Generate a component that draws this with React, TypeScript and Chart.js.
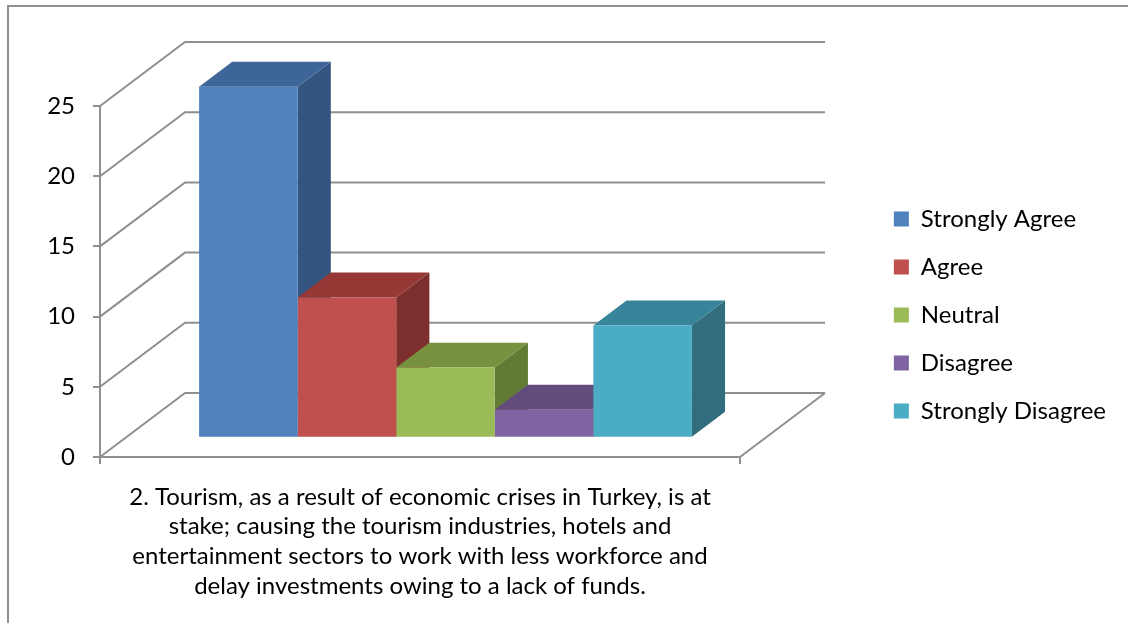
import React, { useEffect, useRef } from "react";
import { Chart, registerables } from "chart.js";

Chart.register(...registerables);

// ---- data ----
const categoryLabel = [
  "2. Tourism, as a result of economic crises in Turkey, is at",
  "stake; causing the tourism industries, hotels and",
  "entertainment sectors to work with less workforce and",
  "delay investments owing to a lack of funds.",
];
const seriesNames = ["Strongly Agree", "Agree", "Neutral", "Disagree", "Strongly Disagree"];
const seriesValues = [25, 10, 5, 2, 8];
const yTickValues = [0, 5, 10, 15, 20, 25];

// ---- styles ----
const frontColors = ["#4F81BD", "#C0504D", "#9BBB59", "#8064A2", "#4BACC6"];
const topColors = ["#3D6597", "#953836", "#77913F", "#624B7D", "#38849A"];
const sideColors = ["#34557F", "#7D2F2E", "#637A35", "#513F68", "#316D7D"];
const GRID = "#8f8f8f";
const FONT = "Lato";
const FONT_SIZE = 24;
const WALL_DX = 85;
const WALL_DY = -64;
const BAR_FRONT = 0.3;
const BAR_DEPTH = 0.39;
const CANVAS_W = 1128;
const CANVAS_H = 630;
const PLOT_RIGHT = 740;
const PLOT_BOTTOM = 457;
const PLOT_TOP = 106;
const LEFT_AXIS_W = 100;
const RIGHT_PAD = 12;

const threeDPlugin = {
  id: "threeD",
  beforeDatasetsDraw(chart: any) {
    const ctx = chart.ctx;
    const xs = chart.scales.x;
    const ys = chart.scales.y;
    const left = xs.left;
    const right = xs.right;
    ctx.save();
    ctx.strokeStyle = GRID;
    ctx.lineWidth = 2;
    ctx.lineJoin = "miter";
    // walls
    yTickValues.forEach((v) => {
      const py = ys.getPixelForValue(v);
      ctx.beginPath();
      ctx.moveTo(left, py);
      ctx.lineTo(left + WALL_DX, py + WALL_DY);
      ctx.lineTo(right + WALL_DX, py + WALL_DY);
      ctx.stroke();
    });
    // floor right edge
    const p0 = ys.getPixelForValue(0);
    ctx.beginPath();
    ctx.moveTo(right, p0);
    ctx.lineTo(right + WALL_DX, p0 + WALL_DY);
    ctx.stroke();
    ctx.restore();

    // bars: translate into depth, draw sides & tops; fronts drawn by Chart.js
    ctx.save();
    ctx.translate(WALL_DX * BAR_FRONT, WALL_DY * BAR_FRONT);
    const dx = WALL_DX * BAR_DEPTH;
    const dy = WALL_DY * BAR_DEPTH;
    chart.data.datasets.forEach((_ds: any, di: number) => {
      const meta = chart.getDatasetMeta(di);
      meta.data.forEach((bar: any) => {
        const { x, y, base, width } = bar.getProps(["x", "y", "base", "width"], true);
        const l = x - width / 2;
        const r = x + width / 2;
        // side
        ctx.fillStyle = sideColors[di];
        ctx.beginPath();
        ctx.moveTo(r, y);
        ctx.lineTo(r + dx, y + dy);
        ctx.lineTo(r + dx, base + dy);
        ctx.lineTo(r, base);
        ctx.closePath();
        ctx.fill();
        // top
        ctx.fillStyle = topColors[di];
        ctx.beginPath();
        ctx.moveTo(l, y);
        ctx.lineTo(l + dx, y + dy);
        ctx.lineTo(r + dx, y + dy);
        ctx.lineTo(r, y);
        ctx.closePath();
        ctx.fill();
      });
    });
  },
  afterDatasetsDraw(chart: any) {
    chart.ctx.restore();
  },
};

export default function App() {
  const ref = useRef<HTMLCanvasElement | null>(null);

  useEffect(() => {
    if (!ref.current) return;
    const font = { family: FONT, size: FONT_SIZE };
    const chart = new Chart(ref.current, {
      type: "bar",
      data: {
        labels: [categoryLabel],
        datasets: seriesNames.map((name, i) => ({
          label: name,
          data: [seriesValues[i]],
          backgroundColor: frontColors[i],
          borderWidth: 0,
          clip: false as any,
        })),
      },
      options: {
        responsive: false,
        animation: false,
        devicePixelRatio: 1,
        layout: { padding: { left: 0, top: 0, bottom: 0, right: RIGHT_PAD } },
        datasets: {
          bar: { categoryPercentage: 0.77, barPercentage: 1 },
        },
        plugins: {
          tooltip: { enabled: false },
          legend: {
            position: "right",
            align: "center",
            maxWidth: 400,
            labels: {
              font,
              color: "#000",
              boxWidth: 15,
              boxHeight: 15,
              padding: 24,
            },
          } as any,
        },
        scales: {
          x: {
            type: "category",
            offset: true,
            grid: {
              display: true,
              offset: true,
              drawOnChartArea: false,
              drawTicks: true,
              tickLength: 7,
              color: GRID,
              lineWidth: 2,
            },
            border: { display: true, color: GRID, width: 2 },
            ticks: {
              font: { family: FONT, size: FONT_SIZE, lineHeight: 1.24 },
              color: "#000",
              padding: 18,
              maxRotation: 0,
              minRotation: 0,
              autoSkip: false,
            },
            afterFit: (s: any) => {
              s.height = CANVAS_H - PLOT_BOTTOM;
            },
          },
          y: {
            type: "linear",
            min: 0,
            max: 25,
            ticks: { stepSize: 5, font, color: "#000", padding: 18 },
            grid: {
              display: true,
              drawOnChartArea: false,
              drawTicks: true,
              tickLength: 7,
              color: GRID,
              lineWidth: 2,
            },
            border: { display: true, color: GRID, width: 2 },
            afterFit: (s: any) => {
              s.width = LEFT_AXIS_W;
            },
          },
          depthRight: {
            type: "linear",
            position: "right",
            display: true,
            grid: { display: false },
            ticks: { display: false },
            border: { display: false },
            afterFit: (s: any) => {
              const lw = s.chart.legend ? s.chart.legend.width : 0;
              s.width = Math.max(0, CANVAS_W - RIGHT_PAD - lw - PLOT_RIGHT);
            },
          },
          depthTop: {
            type: "category",
            position: "top",
            display: true,
            grid: { display: false },
            ticks: { display: false },
            border: { display: false },
            afterFit: (s: any) => {
              s.height = PLOT_TOP;
            },
          },
        } as any,
      },
      plugins: [threeDPlugin],
    });
    return () => chart.destroy();
  }, []);

  return (
    <div style={{ position: "absolute", left: 0, top: 0, width: CANVAS_W, height: 623, overflow: "hidden", background: "#fff" }}>
      <div
        style={{
          position: "absolute",
          left: 7,
          top: 5,
          width: 1200,
          height: 700,
          borderLeft: "2px solid #8f8f8f",
          borderTop: "2px solid #8f8f8f",
        }}
      />
      <canvas
        ref={ref}
        width={CANVAS_W}
        height={CANVAS_H}
        style={{ position: "absolute", left: 0, top: 0, width: CANVAS_W, height: CANVAS_H }}
      />
    </div>
  );
}
